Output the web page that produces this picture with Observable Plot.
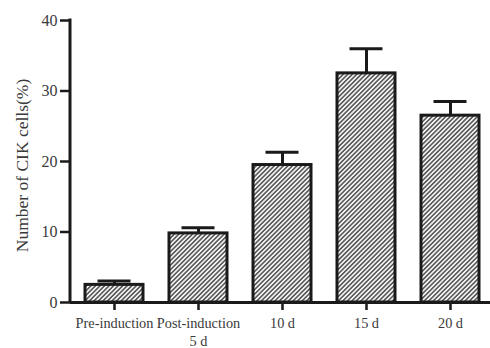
<!DOCTYPE html>
<html>
<head>
<meta charset="utf-8">
<script src="https://cdn.jsdelivr.net/npm/d3@7"></script>
<script src="https://cdn.jsdelivr.net/npm/@observablehq/plot@0.6"></script>
<style>
  html, body { margin: 0; padding: 0; background: #fff; }
  #chart { width: 490px; height: 348px; }
</style>
</head>
<body>
<div id="chart"></div>
<script>
const categories = ["Pre-induction", "Post-induction\n5 d", "10 d", "15 d", "20 d"];
const values = [2.5, 9.8, 19.5, 32.5, 26.5];
const errors = [0.55, 0.8, 1.8, 3.5, 2.0];
const yTicks = [0, 10, 20, 30, 40];
const yLabel = "Number of CIK cells(%)";

const data = categories.map((c, i) => ({cat: c, value: values[i], top: values[i] + errors[i]}));

const font = "'Liberation Serif', 'Times New Roman', serif";
const ink = "#1a1a1a";
const textInk = "#3a3a3a";

function leftAxisLine(index, scales, vals, dims) {
  const line = document.createElementNS("http://www.w3.org/2000/svg", "line");
  line.setAttribute("x1", dims.marginLeft);
  line.setAttribute("x2", dims.marginLeft);
  line.setAttribute("y1", scales.y(40) - 1.5);
  line.setAttribute("y2", scales.y(0));
  line.setAttribute("stroke", ink);
  line.setAttribute("stroke-width", 3);
  return line;
}

const svg = Plot.plot({
  width: 490,
  height: 348,
  marginLeft: 70,
  marginRight: 0,
  marginTop: 20,
  marginBottom: 46,
  style: {fontFamily: font, fontSize: "15px", color: textInk, background: "transparent"},
  x: {domain: categories, range: [70, 493], paddingInner: 0.31, paddingOuter: 0.155},
  y: {domain: [0, 40]},
  marks: [
    Plot.ruleX(data, {x: "cat", y1: "value", y2: "top", stroke: ink, strokeWidth: 3}),
    Plot.tickY(data, {x: "cat", y: "top", stroke: ink, strokeWidth: 3, insetLeft: 12.5, insetRight: 12.5}),
    Plot.barY(data, {x: "cat", y: "value", fill: "url(#hatch)", stroke: ink, strokeWidth: 3}),
    Plot.axisY({ticks: yTicks, tickSize: 10, tickPadding: 3, strokeWidth: 2.5, stroke: ink, fill: textInk, fontSize: 16, label: null}),
    Plot.axisX({tickSize: 8, tickPadding: 5, strokeWidth: 2.5, stroke: ink, fill: textInk, fontSize: 14.3, lineHeight: 1.25, label: null}),
    Plot.text([yLabel], {frameAnchor: "left", textAnchor: "middle", rotate: -90, dx: -48, dy: 4, fontSize: 17.5, fill: textInk}),
    Plot.ruleY([0], {stroke: ink, strokeWidth: 3}),
    leftAxisLine
  ]
});

svg.insertAdjacentHTML("afterbegin",
  `<defs><pattern id="hatch" patternUnits="userSpaceOnUse" width="3.2" height="3.2" patternTransform="rotate(45)">
     <rect width="3.2" height="3.2" fill="#f4f4f4"></rect>
     <line x1="0.8" y1="0" x2="0.8" y2="3.2" stroke="#444" stroke-width="1.4"></line>
   </pattern></defs>`);

document.getElementById("chart").appendChild(svg);
</script>
</body>
</html>
